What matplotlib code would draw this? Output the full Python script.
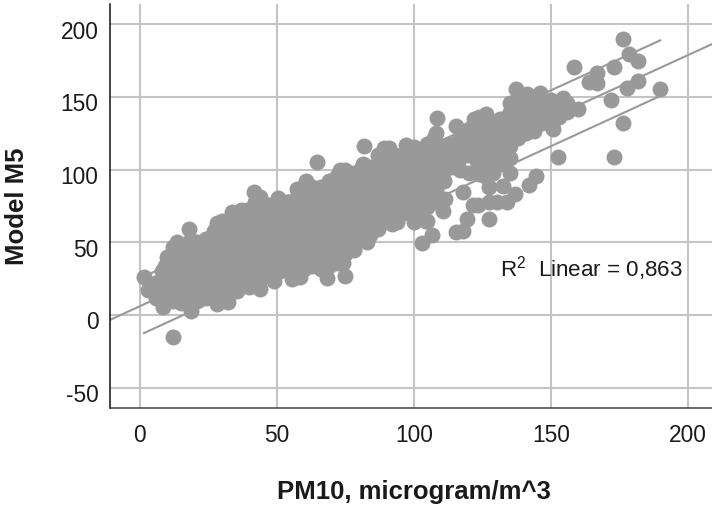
import matplotlib
matplotlib.use("Agg")
import matplotlib.pyplot as plt
from matplotlib.transforms import ScaledTranslation

plt.rcParams['font.family'] = ['Liberation Sans', 'DejaVu Sans']
plt.rcParams['mathtext.default'] = 'regular'
plt.rcParams['axes.unicode_minus'] = False

x_ticks = [0, 50, 100, 150, 200]
y_ticks = [-50, 0, 50, 100, 150, 200]
x_label = "PM10, microgram/m^3"
y_label = "Model M5"
r2_note = "R$^{2}$  Linear = 0,863"

fit_x = [-11, 209]
fit_y = [-3.4, 186.5]
upper_x = [2, 190]
upper_y = [27, 189]
lower_x = [1.5, 190]
lower_y = [-12.4, 150.7]

edge_points = [
    (1.5,26),(3,17),(6,22),(8,30),(10,40),(13.5,50),(18,59),(12,47),(20,50),(24,52),
    (28,63),(30,65),(33.5,71),(37,72),(41.5,85),(44,81),(47,76),(50.5,80.5),(54,78),
    (57.5,87),(60.5,92),(64.5,105),(69,92),(73,100),(75,100),(81.5,104),(82,116),
    (89,115),(91,115),(97,117),(100,115.5),(105,118),(107.5,122),(108.5,135.5),
    (115.5,130),(118,123),(122,135),(124,136),(126.5,138),(131.5,135),(134.5,118),
    (137,143),(137.5,155.5),(138.5,131),(141.5,152),(144,126.5),(146,153),(151,128),
    (154.5,149),(160,142),(152.5,108.5),(144.5,96),(142,89.5),(137,83),(134,78),
    (132.5,89),(135,98),(131.5,104),(127.5,88),(123.5,76),(121.5,76),(127.5,78),
    (130.5,78),(127.5,66),(119.5,66),(118,58),(115.5,57),(118,85),(110.5,71.5),
    (111.5,80),(105,65),(106.5,55),(103,49.5),(124,97),
    (176.5,190),(178.5,179.5),(182,175),(173,171),(167,166.5),(158.5,170.5),(164,160),
    (167,159.5),(182,161),(178,156),(190,155.5),(172,148),(176.5,132),(173,109),
    (55.5,25),(58.5,26),(68.5,25.5),(75,27),(74,36),(78,45),(83,50),(87,59),(92,62.5),
    (94,64),(100,64),(104.5,65),(8.5,5.5),(12,-15),(18.5,3),(28,7.5),(32,9),(35.5,16.5),
    (40,19),(44,18),(49,23.5),
]
core_points = [
    (6,12),(6,22),(12,10),(12,18),(12,26),(12,34),(12,42),(18,10),(18,18),(18,26),
    (18,34),(18,42),(18,50),(24,12),(24,20),(24,28),(24,36),(24,44),(24,52),(30,15),
    (30,23),(30,31),(30,39),(30,47),(30,55),(30,60),(36,22),(36,30),(36,38),(36,46),
    (36,54),(36,62),(36,68),(42,24),(42,32),(42,40),(42,48),(42,56),(42,64),(42,72),
    (42,78),(48,30),(48,38),(48,46),(48,54),(48,62),(48,70),(48,76),(54,32),(54,40),
    (54,48),(54,56),(54,64),(54,72),(54,78),(60,32),(60,40),(60,48),(60,56),(60,64),
    (60,72),(60,80),(60,84),(66,32),(66,40),(66,48),(66,56),(66,64),(66,72),(66,80),
    (66,88),(72,36),(72,44),(72,52),(72,60),(72,68),(72,76),(72,84),(72,92),(72,96),
    (78,50),(78,58),(78,66),(78,74),(78,82),(78,90),(78,98),(84,55),(84,62),(84,70),
    (84,78),(84,86),(84,94),(84,102),(90,65),(90,72),(90,80),(90,88),(90,96),(90,104),
    (90,110),(96,70),(96,78),(96,86),(96,94),(96,102),(96,110),(102,70),(102,78),
    (102,86),(102,94),(102,102),(102,110),(108,78),(108,86),(108,94),(108,102),
    (108,110),(108,118),(108,125),(114,102),(114,110),(114,118),(120,98),(120,110),
    (120,116),(120,122),(120,128),(126,96),(126,104),(126,112),(126,120),(126,128),
    (126,134),(132,112),(132,118),(132,126),(132,134),(138,122),(138,128),(138,136),
    (138,144),(138,150),(144,134),(144,140),(144,148),(150,134),(150,142),(150,148),
    (156,140),(156,146),
]
between_points = [
    (9,10),(9,18),(9,26),(9,34),(15,8),(15,14),(15,22),(15,30),(15,38),(15,46),
    (21,10),(21,18),(21,26),(21,34),(21,42),(21,50),(27,12),(27,20),(27,28),(27,36),
    (27,44),(27,52),(27,58),(33,18),(33,26),(33,34),(33,42),(33,50),(33,58),(33,65),
    (39,24),(39,32),(39,40),(39,48),(39,56),(39,64),(39,72),(45,26),(45,34),(45,42),
    (45,50),(45,58),(45,66),(45,74),(51,30),(51,38),(51,46),(51,54),(51,62),(51,70),
    (51,76),(57,32),(57,40),(57,48),(57,56),(57,64),(57,72),(57,80),(63,34),(63,42),
    (63,50),(63,58),(63,66),(63,74),(63,82),(63,88),(69,34),(69,42),(69,50),(69,58),
    (69,66),(69,74),(69,82),(69,90),(75,42),(75,50),(75,58),(75,66),(75,74),(75,82),
    (75,90),(75,96),(81,56),(81,64),(81,72),(81,80),(81,88),(81,96),(81,102),(87,64),
    (87,72),(87,80),(87,88),(87,96),(87,104),(87,110),(93,70),(93,78),(93,86),(93,94),
    (93,102),(93,110),(99,72),(99,80),(99,88),(99,96),(99,104),(99,110),(105,74),
    (105,82),(105,90),(105,98),(105,106),(105,114),(111,92),(111,100),(111,108),
    (111,116),(117,100),(117,108),(117,116),(117,122),(123,100),(123,106),(123,112),
    (123,120),(123,128),(129,98),(129,106),(129,114),(129,122),(129,130),(135,108),
    (135,116),(135,124),(135,132),(135,140),(135,146),(141,125),(141,132),(141,140),
    (141,148),(147,132),(147,140),(147,148),(153,136),(153,144),
]

all_points = edge_points + core_points + between_points
pm10 = [p[0] for p in all_points]
model_m5 = [p[1] for p in all_points]

grey = '#999999'
fig = plt.figure(figsize=(7.12, 5.06), dpi=100)
ax = fig.add_axes([109.5/712, (506-408.5)/506, (712-109.5)/712, (408.5-5)/506])
ax.set_xlim(-11.1, 208.9)
ax.set_ylim(-63.6, 214)

ax.set_xticks(x_ticks)
ax.set_yticks(y_ticks)
ax.grid(True, color='#c4c4c4', linewidth=1.5)
ax.set_axisbelow(True)
ax.tick_params(length=0, labelsize=16.4, labelcolor='#1a1a1a')
ax.tick_params(axis='y', pad=8)
ax.tick_params(axis='x', pad=11)
shift = ScaledTranslation(0, -3/72, fig.dpi_scale_trans)
for lab in ax.get_yticklabels():
    lab.set_transform(lab.get_transform() + shift)
for side in ('top', 'right'):
    ax.spines[side].set_visible(False)
ax.spines['left'].set_linewidth(1.1)
ax.spines['left'].set_color('#111111')
ax.spines['bottom'].set_linewidth(1.1)
ax.spines['bottom'].set_color('#404040')

for lx, ly in ((fit_x, fit_y), (upper_x, upper_y), (lower_x, lower_y)):
    ax.plot(lx, ly, color=grey, linewidth=1.5, zorder=2)
ax.scatter(pm10, model_m5, s=132, color=grey, linewidths=0, zorder=3)

ax.text(131.5, 33, r2_note, fontsize=16.1, color='#1a1a1a', va='center', ha='left', zorder=4)

fig.text(414/712, 1-492/506, x_label, fontsize=18.5, fontweight='bold', color='#1a1a1a', ha='center', va='center')
fig.text(17/712, 1-206/506, y_label, fontsize=18.5, fontweight='bold', color='#1a1a1a', rotation=90, ha='center', va='center')

fig.savefig('out.png', dpi=100)
